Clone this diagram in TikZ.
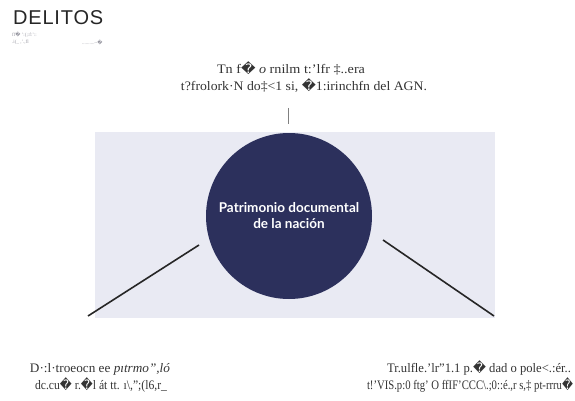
\documentclass[tikz,border=0pt]{standalone}
\usepackage{fontspec}
\setmainfont{Liberation Serif}
\newfontfamily\titulofont[LetterSpace=4]{Liberation Sans}
\newfontfamily\circfont{Lato}
\newfontfamily\simbfont{DejaVu Sans}
\usetikzlibrary{positioning}
\definecolor{azulnoche}{RGB}{44,48,92}
\definecolor{fondogris}{RGB}{233,234,243}
\definecolor{grisclaro}{RGB}{150,150,160}
\newcommand{\rp}{{\simbfont\char"FFFD}}
\newcommand{\ancho}[2]{\resizebox{#1}{\height}{#2}}

\begin{document}
\begin{tikzpicture}[x=1pt, y=-1pt,
    linea/.style={line width=1.6pt, black!85},
    texto/.style={anchor=base, inner sep=0pt, font=\fontsize{13}{17}\selectfont, text=black!80},
    basura/.style={anchor=base west, inner sep=0pt, font=\fontsize{5}{6}\selectfont, text=grisclaro}]
  \useasboundingbox (0,0) rectangle (575,401);
  % Encabezado
  \node[anchor=base west, inner sep=0pt, font=\titulofont\fontsize{20}{24}\selectfont, text=black!85] (titulo) at (13,25) {DELITOS};
  \node[basura] (b1) at (12,37) {ff\rp\ ':(;:f:'::};
  \node[basura] (b2) at (12,44) {.i(\_ ,'.,fl};
  \node[basura] (b3) at (82,45) {..........\textasciitilde\rp};
  % Nota superior
  \node[texto] (n1) at (291,74) {\ancho{148pt}{Tn f\rp\ \textit{o} rnilm t:'lfr ‡..era}};
  \node[texto] (n2) at (304,91) {\ancho{246pt}{t?frolork·N do‡<1 si, \rp1:irinchfn del AGN.}};
  \coordinate (t1) at (288,108);
  \coordinate (t2) at (288,124);
  \draw[gray, line width=0.8pt] (t1) -- (t2);
  % Fondo y circulo
  \fill[fondogris] (95,132) rectangle (495,318);
  \node[circle, fill=azulnoche, minimum size=166pt, inner sep=0pt, align=center, text=white,
        font=\circfont\bfseries\fontsize{13.5}{16}\selectfont] (P) at (289,216) {Patrimonio documental\\de la nación};
  % Ramas
  \coordinate (Ls) at (199,245);
  \coordinate (Li) at (88,316);
  \coordinate (Rs) at (383,240);
  \coordinate (Ri) at (494,316);
  \draw[linea] (Ls) -- (Li);
  \draw[linea] (Rs) -- (Ri);
  % Textos inferiores
  \node[texto] (i1) at (100,372) {\ancho{140pt}{D·:l·troeocn ee \textit{pıtrmo",ló}}};
  \node[texto] (i2) at (101,389) {\ancho{132pt}{dc.cu\rp\ r.\rp l át tt. ı\textbackslash,";(l6,r\_}};
  \node[texto] (d1) at (479,372) {\ancho{184pt}{Tr.ulfle.'lr"1.1 p.\rp\ dad o pole<.:ér..}};
  \node[texto] (d2) at (470,389) {\ancho{206pt}{t!'VIS.p:0 ftg' O ffIF'CCC\textbackslash.;0::é.,r s,‡ pt-rrru\rp}};
\end{tikzpicture}
\end{document}
